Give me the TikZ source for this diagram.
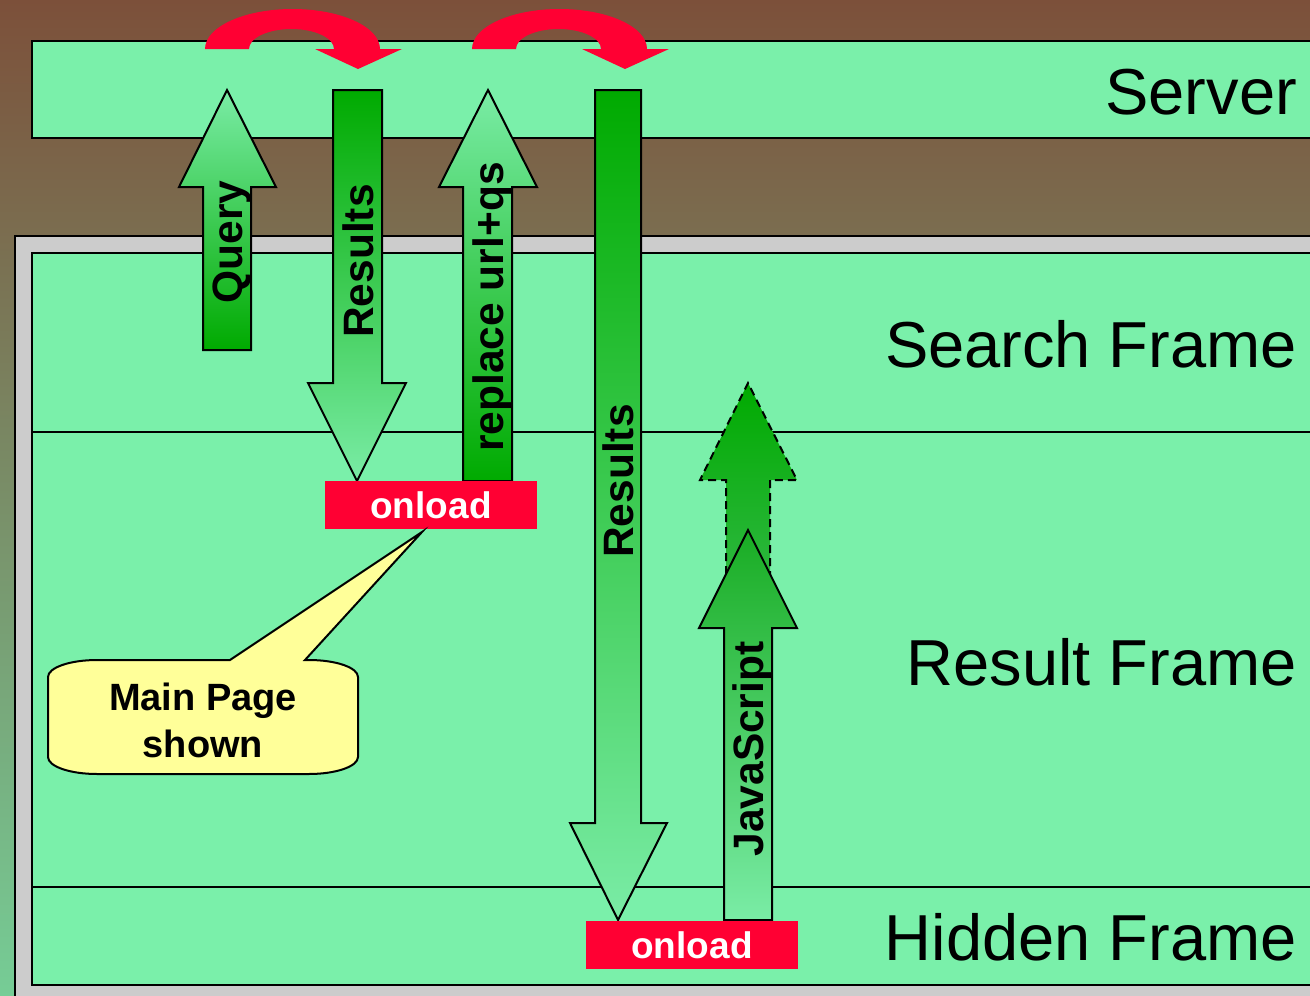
\documentclass[tikz,border=0pt]{standalone}
\usepackage{fontspec}
\setmainfont{Liberation Sans}
\usepackage{xcolor}
\usepackage{tikz}

\definecolor{bgbrown}{RGB}{124,80,58}
\definecolor{bgolive}{RGB}{116,168,120}
\definecolor{bggreen}{RGB}{118,205,150}
\definecolor{framegreen}{RGB}{122,240,170}
\definecolor{framegray}{RGB}{204,204,204}
\definecolor{darkgreen}{RGB}{0,170,0}
\definecolor{jsgreen}{RGB}{25,172,35}
\definecolor{lightgreen}{RGB}{122,236,166}
\definecolor{ghostgreen}{RGB}{50,185,70}
\definecolor{onloadred}{RGB}{255,0,51}
\definecolor{noteyellow}{RGB}{255,255,153}

\begin{document}
\begin{tikzpicture}[x=1pt,y=-1pt,
    frame/.style={draw=black,line width=2.8pt,fill=framegreen},
    blockarrow/.style={draw=black,line width=2pt,line join=miter},
    arrowlabel/.style={rotate=90,anchor=base,inner sep=0pt,font=\fontsize{42.5}{50}\selectfont\bfseries},
    framelabel/.style={anchor=base east,inner sep=0pt,font=\fontsize{65}{78}\selectfont},
    onload/.style={fill=onloadred,text=white,minimum width=212pt,minimum height=48pt,inner sep=0pt,font=\fontsize{37}{44}\selectfont\bfseries},
    turn/.style={fill=onloadred}]

    \useasboundingbox (0,0) rectangle (1310,996);
    \clip (0,0) rectangle (1310,996);
    \shade[top color=bgbrown,middle color=bgolive,bottom color=bggreen] (0,0) rectangle (1310,996);

    % frames
    \draw[fill=framegray,line width=2.8pt] (15,236) rectangle (1330,1020);
    \draw[frame] (32,253) rectangle (1330,985);
    \draw[line width=2.5pt] (32,432) -- (1330,432);
    \draw[line width=2.5pt] (32,887) -- (1330,887);
    \draw[frame] (32,41) rectangle (1330,138);

    \node[framelabel] (server) at (1297,114) {Server};
    \node[framelabel] (search) at (1297,367) {Search Frame};
    \node[framelabel] (result) at (1297,685) {Result Frame};
    \node[framelabel] (hidden) at (1297,960) {Hidden Frame};

    % server turnarounds
    \fill[turn] (205,49) arc[start angle=180,end angle=360,x radius=87.5,y radius=40]
        -- (402,49) -- (358,69) -- (315,49) -- (334,49)
        arc[start angle=0,end angle=-180,x radius=42.5,y radius=20] -- cycle;
    \fill[turn] (472,49) arc[start angle=180,end angle=360,x radius=87.5,y radius=40]
        -- (669,49) -- (625,69) -- (582,49) -- (601,49)
        arc[start angle=0,end angle=-180,x radius=42.5,y radius=20] -- cycle;

    % block arrows
    \shadedraw[blockarrow,dash pattern=on 8pt off 5pt,top color=darkgreen,bottom color=ghostgreen]
        (726,600) -- (726,480) -- (700,480) -- (748,383) -- (797,480) -- (770,480) -- (770,600) -- cycle;
    \shadedraw[blockarrow,top color=lightgreen,bottom color=darkgreen]
        (203,350) -- (203,187) -- (179,187) -- (227,90) -- (276,187) -- (251,187) -- (251,350) -- cycle;
    \shadedraw[blockarrow,top color=darkgreen,bottom color=lightgreen]
        (333,90) -- (333,383) -- (308,383) -- (357,481) -- (406,383) -- (382,383) -- (382,90) -- cycle;
    \shadedraw[blockarrow,top color=lightgreen,bottom color=darkgreen]
        (463,481) -- (463,187) -- (439,187) -- (488,90) -- (537,187) -- (512,187) -- (512,481) -- cycle;
    \shadedraw[blockarrow,top color=darkgreen,bottom color=lightgreen]
        (595,90) -- (595,823) -- (570,823) -- (618,920) -- (667,823) -- (641,823) -- (641,90) -- cycle;
    \shadedraw[blockarrow,top color=jsgreen,bottom color=lightgreen]
        (724,920) -- (724,628) -- (699,628) -- (748,530) -- (797,628) -- (772,628) -- (772,920) -- cycle;

    \node[arrowlabel] (query) at (242,242) {Query};
    \node[arrowlabel] (results) at (373,261) {Results};
    \node[arrowlabel] (replace) at (503,307) {replace url+qs};
    \node[arrowlabel] (hiddenresults) at (633,481) {Results};
    \node[arrowlabel] (javascript) at (763,749) {JavaScript};

    \node[onload] (onloadmain) at (431,505) {onload};
    \node[onload] (onloadhidden) at (692,945) {onload};

    % callout
    \draw[fill=noteyellow,line width=2pt,line join=miter] (97,660) -- (230,660) -- (422,532) -- (305,660) -- (309,660)
        arc[start angle=-90,end angle=0,x radius=49,y radius=17] -- (358,757)
        arc[start angle=0,end angle=90,x radius=49,y radius=17] -- (97,774)
        arc[start angle=90,end angle=180,x radius=49,y radius=17] -- (48,677)
        arc[start angle=180,end angle=270,x radius=49,y radius=17] -- cycle;
    \node[align=center,inner sep=0pt,font=\fontsize{38}{47}\selectfont\bfseries] (mainpage) at (203,720) {Main Page\\shown};
\end{tikzpicture}
\end{document}
